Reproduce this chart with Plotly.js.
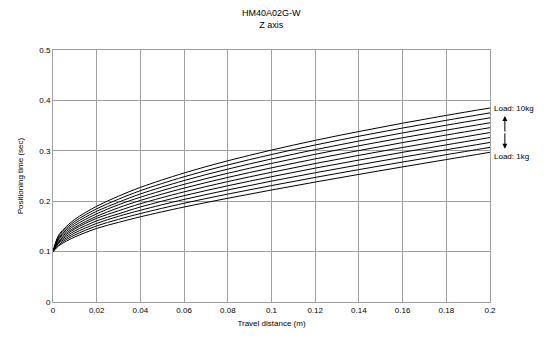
<!DOCTYPE html>
<html>
<head>
<meta charset="utf-8">
<script src="https://cdn.plot.ly/plotly-3.0.1.min.js"></script>
<style>html,body{margin:0;padding:0;background:#fff}#chart{width:550px;height:352px}</style>
</head>
<body>
<div id="chart"></div>
<script>
// Travel distance (m)
const distance = [0, 0.0025, 0.005, 0.01, 0.02, 0.03, 0.04, 0.06, 0.08, 0.1, 0.12, 0.14, 0.16, 0.18, 0.2];
// Positioning time (sec) per load
const load1kg  = [0.100, 0.111, 0.118, 0.129, 0.146, 0.158, 0.1690, 0.1885, 0.2058, 0.2222, 0.2380, 0.2532, 0.2681, 0.2826, 0.2970];
const load2kg  = [0.100, 0.113, 0.121, 0.133, 0.151, 0.164, 0.1755, 0.1960, 0.2141, 0.2310, 0.2472, 0.2627, 0.2777, 0.2923, 0.3068];
const load3kg  = [0.100, 0.116, 0.124, 0.137, 0.156, 0.170, 0.1820, 0.2035, 0.2223, 0.2398, 0.2564, 0.2721, 0.2874, 0.3021, 0.3165];
const load4kg  = [0.100, 0.118, 0.127, 0.141, 0.161, 0.175, 0.1885, 0.2110, 0.2306, 0.2486, 0.2656, 0.2816, 0.2970, 0.3118, 0.3263];
const load5kg  = [0.100, 0.120, 0.130, 0.145, 0.166, 0.181, 0.1950, 0.2185, 0.2389, 0.2574, 0.2748, 0.2910, 0.3066, 0.3216, 0.3361];
const load6kg  = [0.100, 0.123, 0.133, 0.148, 0.170, 0.187, 0.2015, 0.2260, 0.2472, 0.2662, 0.2840, 0.3005, 0.3163, 0.3313, 0.3459];
const load7kg  = [0.100, 0.125, 0.136, 0.152, 0.175, 0.193, 0.2079, 0.2335, 0.2554, 0.2750, 0.2931, 0.3100, 0.3259, 0.3410, 0.3556];
const load8kg  = [0.100, 0.127, 0.139, 0.156, 0.180, 0.198, 0.2144, 0.2410, 0.2637, 0.2838, 0.3023, 0.3194, 0.3355, 0.3508, 0.3654];
const load9kg  = [0.100, 0.130, 0.142, 0.160, 0.185, 0.204, 0.2209, 0.2485, 0.2719, 0.2926, 0.3115, 0.3289, 0.3452, 0.3605, 0.3752];
const load10kg = [0.100, 0.132, 0.145, 0.164, 0.190, 0.210, 0.2274, 0.2560, 0.2802, 0.3014, 0.3207, 0.3383, 0.3548, 0.3703, 0.3849];

const seriesNames = ['1kg','2kg','3kg','4kg','5kg','6kg','7kg','8kg','9kg','10kg'];
const seriesValues = [load1kg, load2kg, load3kg, load4kg, load5kg, load6kg, load7kg, load8kg, load9kg, load10kg];

const xTicks = [0, 0.02, 0.04, 0.06, 0.08, 0.1, 0.12, 0.14, 0.16, 0.18, 0.2];
const yTicks = [0, 0.1, 0.2, 0.3, 0.4, 0.5];

const FONT = 'Liberation Sans, Arial, sans-serif';

const traces = seriesValues.map((vals, i) => ({
  type: 'scatter', mode: 'lines', name: seriesNames[i],
  x: distance, y: vals,
  line: {color: '#000', width: 1, shape: 'spline', smoothing: 1},
  hoverinfo: 'skip'
}));

const layout = {
  width: 550, height: 352,
  margin: {l: 53, r: 60, t: 50, b: 50},
  paper_bgcolor: '#fff', plot_bgcolor: '#fff',
  showlegend: false,
  font: {family: FONT, size: 8, color: '#000'},
  title: {text: 'HM40A02G-W<br>Z axis', x: 0.493, xanchor: 'center', y: 0.955, yanchor: 'top',
          font: {family: FONT, size: 9, color: '#000'}},
  xaxis: {
    range: [0, 0.2], tickvals: xTicks, ticktext: xTicks.map(String),
    showgrid: true, gridcolor: '#a0a0a0', gridwidth: 1,
    showline: true, linecolor: '#a0a0a0', linewidth: 1, mirror: true,
    zeroline: false, ticks: '', tickfont: {family: FONT, size: 8},
    title: {text: 'Travel distance (m)', font: {family: FONT, size: 8}, standoff: 6}
  },
  yaxis: {
    range: [0, 0.5], tickvals: yTicks, ticktext: yTicks.map(String),
    showgrid: true, gridcolor: '#a0a0a0', gridwidth: 1,
    showline: true, linecolor: '#a0a0a0', linewidth: 1, mirror: true,
    zeroline: false, ticks: '', tickfont: {family: FONT, size: 8},
    title: {text: 'Positioning time (sec)', font: {family: FONT, size: 8}, standoff: 14}
  },
  annotations: [
    {xref: 'paper', yref: 'y', x: 1.004, y: load10kg[load10kg.length-1], xanchor: 'left', yanchor: 'middle',
     text: 'Load: 10kg', showarrow: false, font: {family: FONT, size: 8}},
    {xref: 'paper', yref: 'y', x: 1.004, y: 0.289, xanchor: 'left', yanchor: 'middle',
     text: 'Load: 1kg', showarrow: false, font: {family: FONT, size: 8}},
    {xref: 'paper', yref: 'y', x: 1.034, y: 0.369, ax: 0, ay: 17, text: '', showarrow: true,
     arrowhead: 2, arrowsize: 1, arrowwidth: 1, arrowcolor: '#000'},
    {xref: 'paper', yref: 'y', x: 1.034, y: 0.304, ax: 0, ay: -17, text: '', showarrow: true,
     arrowhead: 2, arrowsize: 1, arrowwidth: 1, arrowcolor: '#000'}
  ]
};

Plotly.newPlot('chart', traces, layout, {displayModeBar: false, staticPlot: true});
</script>
</body>
</html>
